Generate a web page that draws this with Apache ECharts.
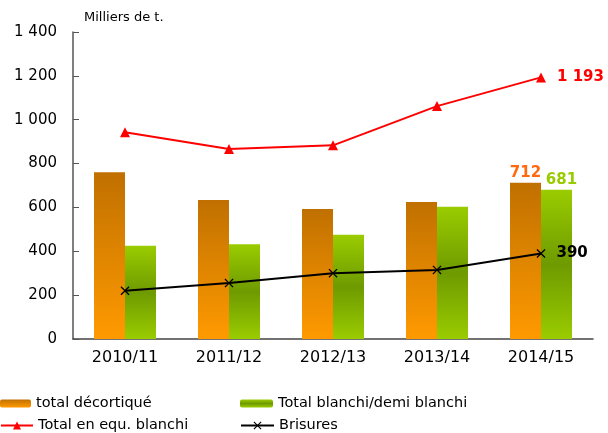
<!DOCTYPE html>
<html>
<head>
<meta charset="utf-8">
<script src="https://cdn.jsdelivr.net/npm/echarts@6/dist/echarts.min.js"></script>
<style>
  html, body { margin: 0; padding: 0; background: #fff; }
  #chart { width: 608px; height: 433px; }
</style>
</head>
<body>
<div id="chart"></div>
<script>
const campagnes = ["2010/11", "2011/12", "2012/13", "2013/14", "2014/15"];
const decortique = [760, 634, 593, 625, 712];
const blanchi = [425, 432, 475, 603, 681];
const equBlanchi = [943, 866, 883, 1062, 1193];
const brisures = [220, 255, 300, 315, 390];

const font = "DejaVu Sans";
const crossPath = "path://M0,1L1,0L5,4L9,0L10,1L6,5L10,9L9,10L5,6L1,10L0,9L4,5Z";

function fmt(v) {
  return String(v).replace(/\B(?=(\d{3})+(?!\d))/g, " ");
}

// only the last campaign gets a value label
function lastOnly(p) {
  return p.dataIndex === campagnes.length - 1 ? fmt(p.value) : "";
}

const orangeGrad = new echarts.graphic.LinearGradient(0, 0, 0, 1, [
  { offset: 0, color: "#c07000" },
  { offset: 1, color: "#ff9a00" }
]);
const greenGrad = new echarts.graphic.LinearGradient(0, 0, 0, 1, [
  { offset: 0, color: "#9acc00" },
  { offset: 0.5, color: "#6f9a00" },
  { offset: 1, color: "#9acc00" }
]);

const chart = echarts.init(document.getElementById("chart"));

const valLabel = (color, pos, extra) => Object.assign({
  show: true,
  position: pos,
  formatter: lastOnly,
  color: color,
  fontFamily: font,
  fontWeight: "bold",
  fontSize: 15
}, extra);

const legendText = { fontFamily: font, fontSize: 14.5, color: "#000" };

chart.setOption({
  animation: false,
  grid: { left: 73, right: 15, top: 32, bottom: 94 },
  title: {
    text: "Milliers de t.",
    left: 84,
    top: 11,
    padding: 0,
    textStyle: { fontFamily: font, fontSize: 13, fontWeight: "normal", color: "#000" }
  },
  legend: [
    { data: ["total décortiqué"], left: 0, top: 396, padding: 0, itemWidth: 31, itemHeight: 8, textStyle: legendText },
    { data: ["Total blanchi/demi blanchi"], left: 240, top: 396, padding: 0, itemWidth: 33, itemHeight: 8, textStyle: legendText },
    { data: ["Total en equ. blanchi"], left: 0, top: 418, padding: 0, itemWidth: 32, itemHeight: 10, textStyle: legendText },
    { data: ["Brisures"], left: 240, top: 418, padding: 0, itemWidth: 33, itemHeight: 10, textStyle: legendText }
  ],
  xAxis: {
    type: "category",
    data: campagnes,
    axisLine: { lineStyle: { color: "#444", width: 1.5 } },
    axisTick: { inside: true, length: 5, lineStyle: { color: "#555" } },
    axisLabel: { color: "#000", fontFamily: font, fontSize: 16, margin: 11 }
  },
  yAxis: {
    type: "value",
    min: 0,
    max: 1400,
    interval: 200,
    splitLine: { show: false },
    axisLine: { show: true, lineStyle: { color: "#555", width: 1.5 } },
    axisTick: { show: true, inside: true, length: 6, lineStyle: { color: "#555" } },
    axisLabel: { color: "#000", fontFamily: font, fontSize: 15, margin: 16, formatter: fmt }
  },
  series: [
    {
      name: "total décortiqué",
      type: "bar",
      data: decortique,
      barWidth: 31,
      barGap: "0%",
      itemStyle: { color: orangeGrad },
      label: valLabel("#ff6a10", "top", { distance: 2 })
    },
    {
      name: "Total blanchi/demi blanchi",
      type: "bar",
      data: blanchi,
      barWidth: 31,
      itemStyle: { color: greenGrad },
      label: valLabel("#99cc00", "top", { distance: 2, offset: [5, 0] })
    },
    {
      name: "Total en equ. blanchi",
      type: "line",
      data: equBlanchi,
      symbol: "triangle",
      symbolSize: 10,
      lineStyle: { color: "#ff0000", width: 2 },
      itemStyle: { color: "#ff0000" },
      label: valLabel("#ff0000", "right", { offset: [6, 0] })
    },
    {
      name: "Brisures",
      type: "line",
      data: brisures,
      symbol: crossPath,
      symbolSize: 9,
      lineStyle: { color: "#000", width: 2 },
      itemStyle: { color: "#000" },
      label: valLabel("#000", "right", { offset: [6, 0] })
    }
  ]
});
</script>
</body>
</html>
